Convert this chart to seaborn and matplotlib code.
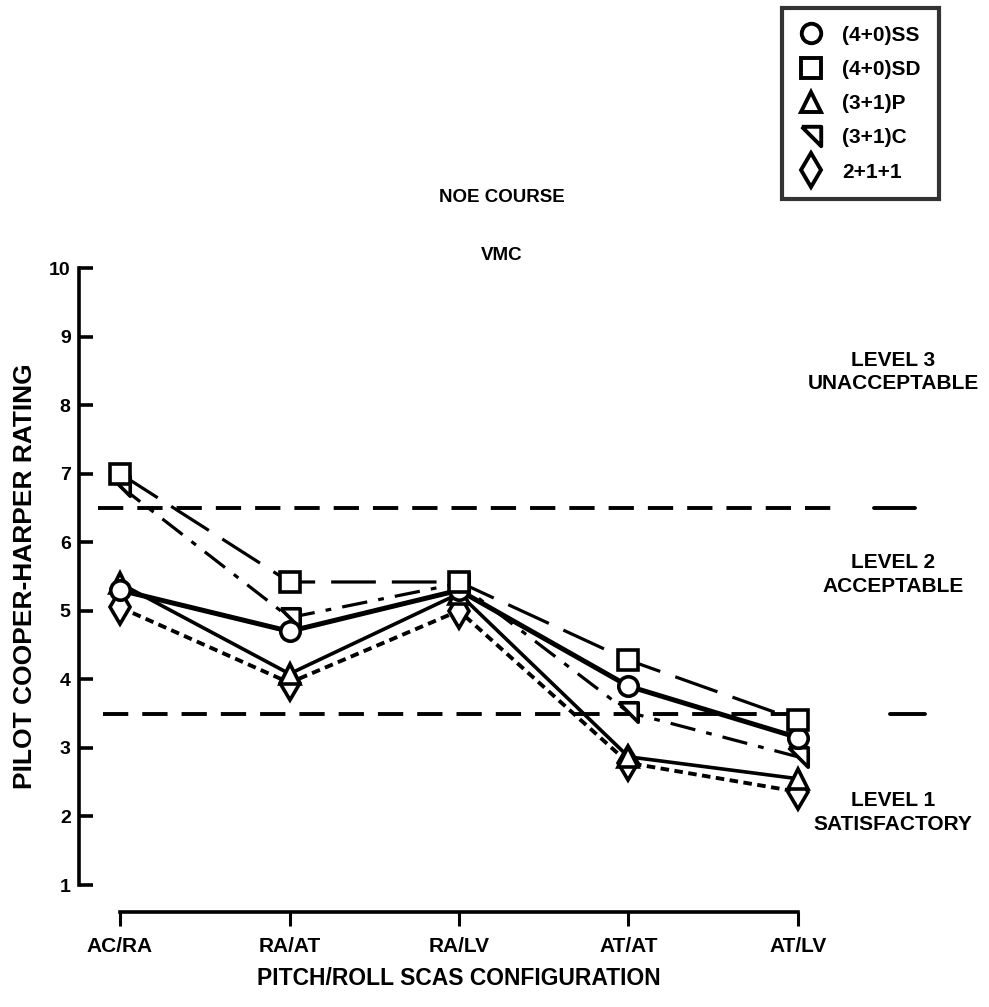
import numpy as np
import pandas as pd
import matplotlib
matplotlib.use("Agg")
import matplotlib.pyplot as plt
import seaborn as sns
from matplotlib.lines import Line2D

# ---------------- data ----------------
configs = ["AC/RA", "RA/AT", "RA/LV", "AT/AT", "AT/LV"]
series_names = ["(4+0)SS", "(4+0)SD", "(3+1)P", "(3+1)C", "2+1+1"]
ss_vals = [5.3, 4.7, 5.3, 3.9, 3.15]
sd_vals = [7.0, 5.42, 5.42, 4.28, 3.4]
p_vals = [5.4, 4.08, 5.25, 2.87, 2.55]
c_vals = [6.82, 4.9, 5.4, 3.52, 2.87]
d_vals = [5.05, 3.95, 5.0, 2.78, 2.36]
level_bounds = [6.5, 3.5]
y_ticks = list(range(1, 11))
level_texts = ["LEVEL 3\nUNACCEPTABLE", "LEVEL 2\nACCEPTABLE", "LEVEL 1\nSATISFACTORY"]
level_text_y = [8.48, 5.53, 2.06]

sns.set_theme(style="white")
FONT = ["Liberation Sans", "DejaVu Sans"]
plt.rcParams["font.family"] = FONT
plt.rcParams["font.weight"] = "bold"
for k in ["text.color", "axes.labelcolor", "xtick.color", "ytick.color",
          "axes.edgecolor"]:
    plt.rcParams[k] = "black"

fig = plt.figure(figsize=(9.89, 10.07), dpi=100)
ax = fig.add_axes([94.6 / 989, (1007 - 885) / 1007, (823.4 - 94.6) / 989, 617 / 1007])

pos = np.arange(len(configs))
all_vals = [ss_vals, sd_vals, p_vals, c_vals, d_vals]
df = pd.DataFrame({
    "pos": np.tile(pos, len(series_names)),
    "rating": np.concatenate(all_vals),
    "series": np.repeat(series_names, len(configs)),
})

c_marker = [(-1, 1), (1, 1), (1, -1), (-1, 1)]
styles = {
    "(4+0)SS": dict(marker="o", lw=3.6, ls="-", ms=14),
    "(4+0)SD": dict(marker="s", lw=2.3, ls=(0, (14, 5)), ms=15),
    "(3+1)P": dict(marker="^", lw=2.6, ls="-", ms=15),
    "(3+1)C": dict(marker=c_marker, lw=2.3, ls=(0, (8, 3.5, 1.8, 3.5)), ms=14),
    "2+1+1": dict(marker="d", lw=2.8, ls=(0, (2.2, 1.4)), ms=17),
}
draw_order = ["2+1+1", "(3+1)P", "(3+1)C", "(4+0)SS", "(4+0)SD"]
for name in draw_order:
    st = styles[name]
    sub = df[df["series"] == name]
    sns.lineplot(data=sub, x="pos", y="rating", ax=ax, color="black",
                 linewidth=st["lw"], linestyle=st["ls"], marker=st["marker"],
                 markersize=st["ms"], markerfacecolor="white",
                 markeredgecolor="black", markeredgewidth=2.6,
                 sort=False, legend=False, zorder=3)

# level boundary dashed lines
ax.plot([-0.13, 4.25], [level_bounds[0]] * 2, color="black", lw=2.8,
        ls=(0, (6.5, 3.6)), clip_on=False, zorder=2)
ax.plot([4.45, 4.69], [level_bounds[0]] * 2, color="black", lw=2.8,
        clip_on=False, zorder=2)
ax.plot([-0.1, 3.95], [level_bounds[1]] * 2, color="black", lw=2.8,
        ls=(0, (6.5, 3.6)), clip_on=False, zorder=2)
ax.plot([4.54, 4.75], [level_bounds[1]] * 2, color="black", lw=2.8,
        clip_on=False, zorder=2)

for t, yv in zip(level_texts, level_text_y):
    ax.text(4.56, yv, t, ha="center", va="center", fontsize=15,
            fontweight="bold", linespacing=1.3, clip_on=False)

ax.set_xlim(-0.15, 4.15)
ax.set_ylim(1, 10)
ax.set_yticks(y_ticks)
ax.set_yticklabels([str(v) for v in y_ticks])
ax.set_xticks(pos)
ax.set_xticklabels(configs)
ax.set_xlabel("PITCH/ROLL SCAS CONFIGURATION", fontsize=16.5, fontweight="bold",
              labelpad=8)
ax.set_ylabel("PILOT COOPER-HARPER RATING", fontsize=19, fontweight="bold",
              labelpad=9)

for s in ["top", "right"]:
    ax.spines[s].set_visible(False)
ax.spines["left"].set_position(("outward", 11.2))
ax.spines["bottom"].set_position(("outward", 19.4))
ax.spines["left"].set_bounds(1, 10)
ax.spines["bottom"].set_bounds(0, 4)
for s in ["left", "bottom"]:
    ax.spines[s].set_linewidth(2.6)
    ax.spines[s].set_color("black")
ax.tick_params(axis="y", direction="in", length=10, width=2.6, pad=6,
               colors="black", left=True, labelsize=14)
ax.tick_params(axis="x", direction="out", length=10, width=2.2, pad=8,
               colors="black", bottom=True, labelsize=15)
for lab in ax.get_xticklabels() + ax.get_yticklabels():
    lab.set_fontweight("bold")
ax.grid(False)
ax.set_facecolor("white")

fig.text(502 / 989, 1 - 197 / 1007, "NOE COURSE", ha="center", va="center",
         fontsize=13.5, fontweight="bold")
fig.text(502 / 989, 1 - 255 / 1007, "VMC", ha="center", va="center",
         fontsize=13.5, fontweight="bold")

handles = [Line2D([], [], ls="none", marker=styles[n]["marker"],
                  markersize=styles[n]["ms"], markerfacecolor="white",
                  markeredgecolor="black", markeredgewidth=2.8)
           for n in series_names]
leg = fig.legend(handles, series_names, loc="upper left",
                 bbox_to_anchor=(782 / 989, 1 - 8 / 1007), frameon=True,
                 fancybox=False, edgecolor="black",
                 labelspacing=0.73, handlelength=1.1, handletextpad=0.95,
                 borderpad=0.85, borderaxespad=0,
                 prop={"weight": "bold", "size": 15})
leg.get_frame().set_linewidth(3.0)

fig.savefig("out.png", dpi=100, facecolor="white")
